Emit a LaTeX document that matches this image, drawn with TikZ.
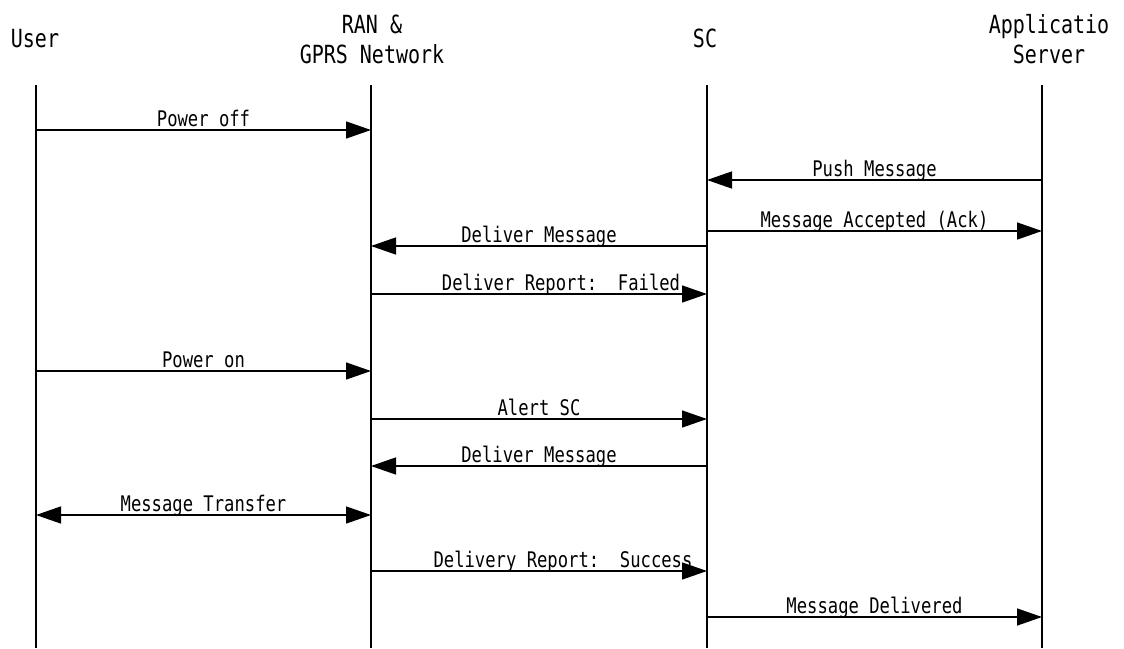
\documentclass[tikz,border=0pt]{standalone}
\usepackage{fontspec}
\usetikzlibrary{arrows.meta}
\newfontfamily\monocond[FakeStretch=0.8]{DejaVu Sans Mono}
\newcommand{\msgfont}{\monocond\fontsize{21.5}{26}\selectfont}
\newcommand{\headfont}{\monocond\fontsize{25}{30}\selectfont}
\tikzset{
  head/.style={font=\headfont, align=center, inner sep=0pt, anchor=base},
  lifeline/.style={line width=1.4pt},
  msg/.style={line width=1.4pt, -{Triangle[length=25pt,width=17pt]}},
  bimsg/.style={line width=1.4pt, {Triangle[length=25pt,width=17pt]}-{Triangle[length=25pt,width=17pt]}},
  lbl/.style={font=\msgfont, anchor=base, inner sep=0pt, yshift=4pt}
}
\begin{document}
\begin{tikzpicture}[x=1pt, y=-1pt]
  \useasboundingbox (0,0) rectangle (1124,648);

  % participants (base anchor sits on the last line)
  \node[head] (user) at (35,47) {User};
  \node[head] (ran)  at (372,63) {RAN \&\\GPRS Network};
  \node[head] (sc)   at (705,47) {SC};
  \node[head] (app)  at (1049,63) {Applicatio\\Server};

  % lifelines
  \foreach \n/\x in {u/36, r/371, s/707, a/1042} {
    \coordinate (\n top) at (\x,85);
    \coordinate (\n bot) at (\x,648);
    \draw[lifeline] (\n top) -- (\n bot);
  }

  % message end points on the lifelines
  \foreach \i/\y in {1/130, 2/180, 3/231, 4/246, 5/294, 6/371, 7/419, 8/466, 9/515, 10/571, 11/617} {
    \coordinate (u\i) at (36,\y);
    \coordinate (r\i) at (371,\y);
    \coordinate (s\i) at (707,\y);
    \coordinate (a\i) at (1042,\y);
  }

  % messages
  \draw[msg] (u1) -- node[lbl] {Power off} (r1);
  \draw[msg] (a2) -- node[lbl] {Push Message} (s2);
  \draw[msg] (s3) -- node[lbl] {Message Accepted (Ack)} (a3);
  \draw[msg] (s4) -- node[lbl] {Deliver Message} (r4);
  \draw[msg] (r5) -- node[lbl, xshift=22pt] {Deliver Report:\ \ Failed} (s5);
  \draw[msg] (u6) -- node[lbl] {Power on} (r6);
  \draw[msg] (r7) -- node[lbl] {Alert SC} (s7);
  \draw[msg] (s8) -- node[lbl] {Deliver Message} (r8);
  \draw[bimsg] (u9) -- node[lbl] {Message Transfer} (r9);
  \draw[msg] (r10) -- node[lbl, xshift=24pt] {Delivery Report:\ \ Success} (s10);
  \draw[msg] (s11) -- node[lbl] {Message Delivered} (a11);
\end{tikzpicture}
\end{document}
